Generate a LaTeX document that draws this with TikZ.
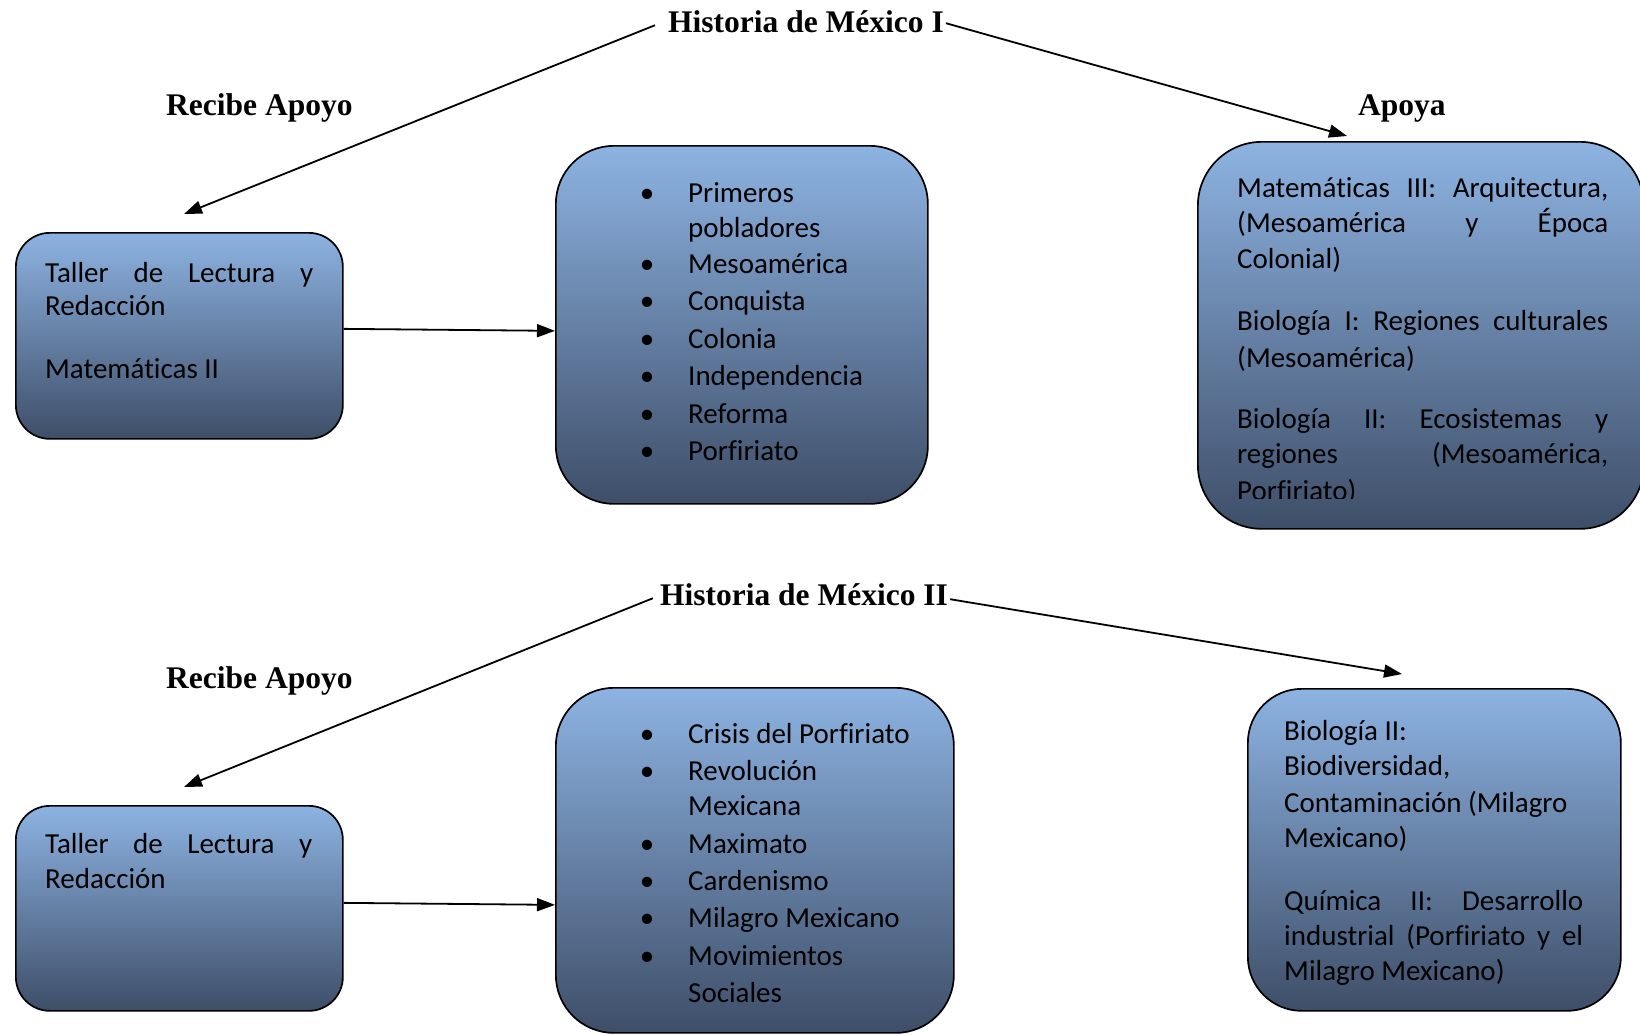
\documentclass[tikz,border=0pt]{standalone}
\usepackage{fontspec}
\setmainfont{Carlito}[Ligatures=NoCommon]
\newfontfamily\tnrfont{Liberation Serif}
\usetikzlibrary{arrows.meta}
\definecolor{boxtop}{RGB}{141,179,226}
\definecolor{boxbot}{RGB}{62,78,104}
\begin{document}
\begin{tikzpicture}[x=1pt,y=-1pt,
  boxnode/.style={draw=black, line width=1.7pt, top color=boxtop, bottom color=boxbot,
    inner sep=0pt, anchor=north west, shape=rectangle},
  txt/.style={font=\fontsize{29}{36}\selectfont, inner sep=0pt, anchor=base west},
  bul/.style={font=\fontsize{29}{36}\selectfont, inner sep=0pt, anchor=base},
  ttl/.style={font=\tnrfont\bfseries\fontsize{31.5}{38}\selectfont, inner sep=0pt},
  arr/.style={line width=1.8pt, -{Triangle[length=18pt,width=13pt]}}]
\useasboundingbox (0,0) rectangle (1640,1034);

% ---------- boxes ----------
\node[boxnode, rounded corners=34pt, minimum width=327pt, minimum height=206pt] (a1) at (15,232) {};
\node[boxnode, rounded corners=58pt, minimum width=372pt, minimum height=358pt] (b1) at (555,145) {};
\node[boxnode, rounded corners=64pt, minimum width=446pt, minimum height=387pt] (c1) at (1197,141) {};
\node[boxnode, rounded corners=34pt, minimum width=327pt, minimum height=205pt] (a2) at (15,805) {};
\node[boxnode, rounded corners=58pt, minimum width=398pt, minimum height=345pt] (b2) at (555,687) {};
\node[boxnode, rounded corners=54pt, minimum width=373pt, minimum height=322pt] (c2) at (1247,688) {};

% ---------- titles ----------
\node[ttl, anchor=base] (t1) at (806,32) {Historia de México I};
\node[ttl, anchor=base] (t2) at (804,605) {Historia de México II};
\node[ttl, anchor=base west] (r1) at (166,115) {Recibe Apoyo};
\node[ttl, anchor=base west] (r2) at (166,688) {Recibe Apoyo};
\node[ttl, anchor=base west] (ap) at (1358,115) {Apoya};

% ---------- arrow ends ----------
\coordinate (e1) at (184,214);
\coordinate (e2) at (1347,136);
\coordinate (e3) at (184,787);
\coordinate (e4) at (1402,674);

\draw[arr] ([xshift=-13pt,yshift=-4pt]t1.west) -- (e1);
\draw[arr] ([xshift=2pt,yshift=-2pt]t1.east) -- (e2);
\draw[arr] ([xshift=-7pt,yshift=-4pt]t2.west) -- (e3);
\draw[arr] ([xshift=2pt,yshift=-5pt]t2.east) -- (e4);
\draw[arr] ([yshift=7pt]a1.east) -- ([yshift=-6pt]b1.west);
\draw[arr] ([yshift=5.5pt]a2.east) -- ([yshift=-44.5pt]b2.west);

% ---------- box A1 ----------
\node[txt] (a1l1) at (45,282) {\makebox[268pt][s]{Taller de Lectura y}};
\node[txt] (a1l2) at (45,315) {Redacción};
\node[txt] (a1l3) at (45,378) {Matemáticas II};

% ---------- box A2 ----------
\node[txt] (a2l1) at (45,853) {\makebox[267pt][s]{Taller de Lectura y}};
\node[txt] (a2l2) at (45,888) {Redacción};

% ---------- box B1 ----------
\foreach \yy [count=\i] in {202,273,310,348,385,423,460}
  \node[bul] (b1d\i) at (647,\yy) {•};
\foreach \yy/\tx [count=\i] in {202/{Primeros},237/{pobladores},273/{Mesoamérica},
   310/{Conquista},348/{Colonia},385/{Independencia},423/{Reforma},460/{Porfiriato}}
  \node[txt] (b1l\i) at (688,\yy) {\tx};

% ---------- box B2 ----------
\foreach \yy [count=\i] in {743,780,853,890,927,965}
  \node[bul] (b2d\i) at (647,\yy) {•};
\foreach \yy/\tx [count=\i] in {743/{Crisis del Porfiriato},780/{Revolución},815/{Mexicana},
   853/{Maximato},890/{Cardenismo},927/{Milagro Mexicano},965/{Movimientos},1002/{Sociales}}
  \node[txt] (b2l\i) at (688,\yy) {\tx};

% ---------- box C1 ----------
\begin{scope}
\clip (1190,140) rectangle (1640,498);
\node[txt] (c1l1) at (1237,197) {\makebox[371pt][s]{Matemáticas III: Arquitectura,}};
\node[txt] (c1l2) at (1237,232) {\makebox[371pt][s]{(Mesoamérica y Época}};
\node[txt] (c1l3) at (1237,268) {Colonial)};
\node[txt] (c1l4) at (1237,330) {\makebox[371pt][s]{Biología I: Regiones culturales}};
\node[txt] (c1l5) at (1237,367) {(Mesoamérica)};
\node[txt] (c1l6) at (1237,428) {\makebox[371pt][s]{Biología II: Ecosistemas y}};
\node[txt] (c1l7) at (1237,463) {\makebox[371pt][s]{regiones (Mesoamérica,}};
\node[txt] (c1l8) at (1237,500) {Porfiriato)};
\end{scope}

% ---------- box C2 ----------
\begin{scope}
\clip (1240,690) rectangle (1640,984);
\node[txt] (c2l1) at (1284,740) {Biología II:};
\node[txt] (c2l2) at (1284,775) {Biodiversidad,};
\node[txt] (c2l3) at (1284,812) {Contaminación (Milagro};
\node[txt] (c2l4) at (1284,847) {Mexicano)};
\node[txt] (c2l5) at (1284,910) {\makebox[299pt][s]{Química II: Desarrollo}};
\node[txt] (c2l6) at (1284,945) {\makebox[299pt][s]{industrial (Porfiriato y el}};
\node[txt] (c2l7) at (1284,980) {Milagro Mexicano)};
\end{scope}
\end{tikzpicture}
\end{document}
